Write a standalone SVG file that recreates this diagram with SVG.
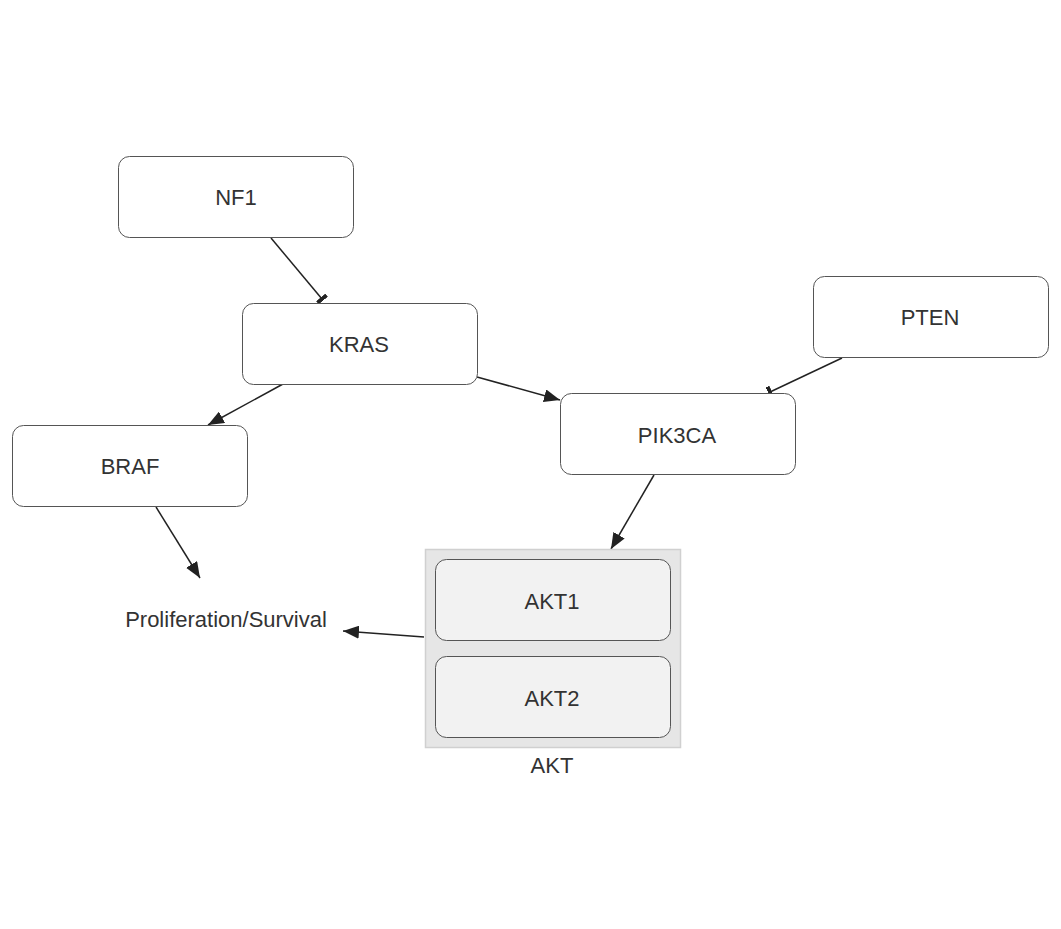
<svg xmlns="http://www.w3.org/2000/svg" width="1061" height="929" viewBox="0 0 1061 929">
<defs>
<style>
.node rect{fill:#ffffff;stroke:#555;stroke-width:1}
.inner rect{fill:#f2f2f2;stroke:#555;stroke-width:1}
text{font-family:"Liberation Sans",Arial,sans-serif;font-size:22px;fill:#333;text-anchor:middle;dominant-baseline:central}
.edge{stroke:#222;stroke-width:1.5;fill:none}
</style>
<marker id="arrowL" viewBox="0 0 16 13" refX="16" refY="6.5" markerWidth="16" markerHeight="13" markerUnits="userSpaceOnUse" orient="auto">
<path d="M0,0 L16,6.5 L0,13 z" fill="#222"/>
</marker>
<marker id="bar" viewBox="0 0 4 12" refX="2" refY="6" markerWidth="4" markerHeight="12" markerUnits="userSpaceOnUse" orient="auto">
<rect x="0" y="0" width="4" height="12" fill="#222"/>
</marker>
</defs>
<rect width="1061" height="929" fill="#ffffff"/>
<g id="edges">
<line class="edge" x1="271" y1="238" x2="322" y2="299" marker-end="url(#bar)"/>
<line class="edge" x1="283" y1="384" x2="208" y2="425" marker-end="url(#arrowL)"/>
<line class="edge" x1="477" y1="377" x2="560" y2="400" marker-end="url(#arrowL)"/>
<line class="edge" x1="842" y1="358" x2="770" y2="392" marker-end="url(#bar)"/>
<line class="edge" x1="654" y1="475" x2="611" y2="549" marker-end="url(#arrowL)"/>
<line class="edge" x1="156" y1="507" x2="200" y2="578" marker-end="url(#arrowL)"/>
<line class="edge" x1="424" y1="637" x2="343" y2="631" marker-end="url(#arrowL)"/>
</g>
<g id="NF1" class="node"><rect x="118.5" y="156.5" width="235" height="81" rx="11"/><text x="236" y="197">NF1</text></g>
<g id="KRAS" class="node"><rect x="242.5" y="303.5" width="235" height="81" rx="11"/><text x="359" y="344">KRAS</text></g>
<g id="PTEN" class="node"><rect x="813.5" y="276.5" width="235" height="81" rx="11"/><text x="930" y="317">PTEN</text></g>
<g id="PIK3CA" class="node"><rect x="560.5" y="393.5" width="235" height="81" rx="11"/><text x="677" y="435">PIK3CA</text></g>
<g id="BRAF" class="node"><rect x="12.5" y="425.5" width="235" height="81" rx="11"/><text x="130" y="466">BRAF</text></g>
<g id="AKT">
<rect x="425.5" y="549.5" width="255" height="198" fill="#e6e6e6" stroke="#d0d0d0" stroke-width="1.5"/>
<text x="552" y="765">AKT</text>
<g id="AKT1" class="inner"><rect x="435.5" y="559.5" width="235" height="81" rx="11"/><text x="552" y="601">AKT1</text></g>
<g id="AKT2" class="inner"><rect x="435.5" y="656.5" width="235" height="81" rx="11"/><text x="552" y="698">AKT2</text></g>
</g>
<g id="Proliferation"><text x="226" y="619">Proliferation/Survival</text></g>
</svg>
